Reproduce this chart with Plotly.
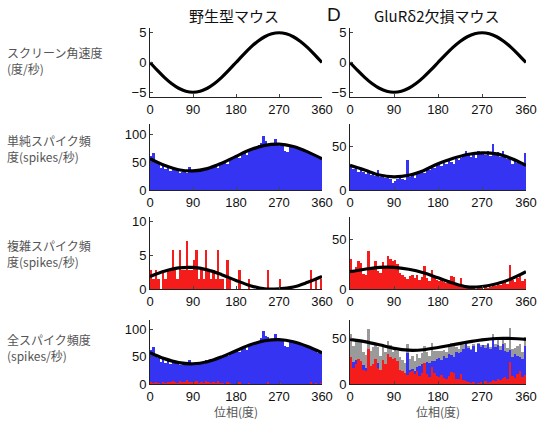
import numpy as np
import plotly.graph_objects as go

W, H = 544, 423

# ---------------- data ----------------
phase_bins = np.arange(2.5, 360, 5)          # 72 bins of 5 degrees
curve_phase = [0, 30, 60, 90, 120, 150, 180, 210, 240, 270, 300, 330, 360]
vel_phase = list(range(0, 361, 15))
screen_velocity = [0, -1.29, -2.5, -3.54, -4.33, -4.83, -5, -4.83, -4.33, -3.54, -2.5, -1.29,
                   0, 1.29, 2.5, 3.54, 4.33, 4.83, 5, 4.83, 4.33, 3.54, 2.5, 1.29, 0]

wt_simple = [60, 66, 50, 47, 40, 44, 38, 42, 34, 38, 36, 35, 30, 33, 32, 31, 42, 33,
             32, 34, 35, 36, 35, 38, 39, 40, 42, 43, 40, 47, 49, 51, 47, 54, 57, 59,
             61, 57, 64, 66, 62, 71, 72, 73, 76, 80, 84, 97, 88, 83, 81, 82, 92, 82,
             79, 80, 70, 68, 78, 77, 76, 73, 74, 70, 71, 68, 66, 64, 63, 60, 58, 57]
wt_complex = [2.86, 1.43, 2.86, 1.43, 0, 2.86, 1.43, 2.86, 2.86, 5.71, 2.86, 1.43,
              5.71, 2.86, 2.86, 7.14, 2.86, 2.86, 4.29, 5.71, 1.43, 2.86, 1.43, 5.71,
              2.86, 1.43, 2.86, 1.43, 5.71, 1.43, 1.43, 0, 4.29, 1.43, 0, 0,
              0, 2.86, 0, 0, 0, 1.43, 0, 0, 0, 0, 0, 0,
              0, 2.86, 0, 0, 0, 0, 1.43, 0, 0, 0, 0, 0,
              0, 0, 0, 0, 0, 0, 0, 2.86, 0, 1.43, 0, 1.43]
ko_simple = [26, 24, 27, 20, 23, 21, 18, 22, 17, 19, 16, 23, 15, 17, 14, 15, 13, 8,
             10, 12, 14, 13, 11, 34, 15, 17, 14, 19, 20, 22, 19, 24, 23, 26, 25, 28,
             29, 27, 31, 29, 33, 32, 30, 35, 34, 36, 39, 44, 40, 38, 42, 36, 44, 41,
             43, 40, 44, 39, 52, 41, 43, 38, 44, 37, 35, 38, 30, 33, 31, 30, 28, 42]
ko_complex = [30, 18, 22, 28, 26, 15, 14, 39, 20, 22, 28, 18, 16, 27, 22, 33, 30, 28,
              29, 25, 16, 14, 12, 10, 13, 14, 11, 14, 9, 12, 23, 11, 8, 19, 12, 9,
              8, 10, 7, 6, 9, 13, 12, 6, 5, 11, 4, 3, 2, 1, 2, 0, 1, 2,
              0, 3, 1, 2, 4, 3, 6, 4, 7, 8, 5, 24, 9, 7, 11, 14, 8, 10]

wt_simple_fit = [55.9, 44.2, 36.3, 34.1, 38.3, 47.9, 60.1, 71.8, 79.7, 81.9, 77.7, 68.2, 55.9]
wt_complex_fit = [1.84, 2.61, 3.10, 3.17, 2.81, 2.11, 1.26, 0.49, 0.02, 0.02, 0.29, 0.99, 1.84]
wt_total_fit = [57.7, 46.8, 39.4, 37.3, 41.1, 50.0, 61.4, 72.3, 79.7, 81.9, 78.0, 69.2, 57.7]
ko_simple_fit = [28, 22.7, 17, 15, 16.7, 22, 29.8, 35.8, 40.4, 42.2, 41, 35.8, 28]
ko_complex_fit = [17.5, 20, 22, 22, 20, 16.5, 11.3, 6, 2.2, 2.5, 5.3, 10.3, 17.5]
ko_total_fit = [49.5, 47, 43.5, 39.5, 37.5, 38, 40.5, 43.5, 46.5, 49, 50.5, 50.5, 49.5]

x_ticks = [0, 90, 180, 270, 360]
col_titles = ["野生型マウス", "GluRδ2欠損マウス"]
row_labels = ["スクリーン角速度<br>(度/秒)", "単純スパイク頻<br>度(spikes/秒)",
              "複雑スパイク頻<br>度(spikes/秒)", "全スパイク頻度<br>(spikes/秒)"]
x_label = "位相(度)"

# ---------------- styling ----------------
BLUE = "#3434f2"
RED = "#f51c1c"
GRAY = "#9a9a9a"
TICKFONT = dict(family="Liberation Sans, Arial", size=13, color="#111")
CJK = "Noto Sans CJK JP"

def fx(px):
    return px / W

def fy(py):
    return 1 - py / H

col_px = [(150, 322), (350, 526)]
row_px = [(28, 97), (124, 190), (217, 289), (320, 384)]
y_ranges = [
    [[-5.8, 5.8], [-5.8, 5.8]],
    [[0, 118], [0, 75]],
    [[0, 10.6], [0, 73]],
    [[0, 118], [0, 71]],
]
y_ticks = [
    [[-5, 0, 5], [-5, 0, 5]],
    [[0, 50, 100], [0, 50]],
    [[0, 5, 10], [0, 50]],
    [[0, 50, 100], [0, 50]],
]

fig = go.Figure()
layout = dict(width=W, height=H, margin=dict(l=0, r=0, t=0, b=0, autoexpand=False),
              paper_bgcolor="white", plot_bgcolor="white",
              barmode="overlay", bargap=0, showlegend=False)

def add_bar(idx, y, color):
    fig.add_trace(go.Bar(x=phase_bins, y=y, width=5, marker_color=color,
                         marker_line_width=0, xaxis=f"x{idx}", yaxis=f"y{idx}"))

def add_line(idx, x, y):
    fig.add_trace(go.Scatter(x=x, y=y, mode="lines", line=dict(color="black", width=3.2, shape="spline"),
                             xaxis=f"x{idx}", yaxis=f"y{idx}"))

idx = 0
for r in range(4):
    for c in range(2):
        idx += 1
        x0, x1 = col_px[c]
        ytop, ybot = row_px[r]
        sfx = "" if idx == 1 else str(idx)
        layout["xaxis" + sfx] = dict(domain=[fx(x0), fx(x1)], range=[0, 360], tickvals=x_ticks,
                                     ticks="inside", ticklen=3, showline=True, linecolor="#222",
                                     linewidth=1, showgrid=False, zeroline=False, tickfont=TICKFONT,
                                     anchor=f"y{idx}", fixedrange=True)
        layout["yaxis" + sfx] = dict(domain=[fy(ybot), fy(ytop)], range=y_ranges[r][c],
                                     tickvals=y_ticks[r][c], ticks="inside", ticklen=3,
                                     showline=True, linecolor="#222", linewidth=1, showgrid=False,
                                     zeroline=False, tickfont=TICKFONT, anchor=f"x{idx}", fixedrange=True)

# row 1: stimulus
add_line(1, vel_phase, screen_velocity)
add_line(2, vel_phase, screen_velocity)
# row 2: simple spikes
add_bar(3, wt_simple, BLUE)
add_line(3, curve_phase, wt_simple_fit)
add_bar(4, ko_simple, BLUE)
add_line(4, curve_phase, ko_simple_fit)
# row 3: complex spikes
add_bar(5, wt_complex, RED)
add_line(5, curve_phase, wt_complex_fit)
add_bar(6, ko_complex, RED)
add_line(6, curve_phase, ko_complex_fit)
# row 4: all spikes
wt_total = np.array(wt_simple) + np.array(wt_complex)
ko_total = np.array(ko_simple) + np.array(ko_complex)
add_bar(7, wt_total, BLUE)
add_bar(7, wt_complex, RED)
add_line(7, curve_phase, wt_total_fit)
add_bar(8, ko_total, GRAY)
add_bar(8, ko_simple, BLUE)
add_bar(8, ko_complex, RED)
add_line(8, curve_phase, ko_total_fit)

def note(text, x, y, size, color, family=CJK, xanchor="center", align="center"):
    return dict(text=text, x=fx(x), y=fy(y), xref="paper", yref="paper",
                xanchor=xanchor, yanchor="middle", align=align, showarrow=False,
                font=dict(family=family, size=size, color=color))

ann = [
    note(col_titles[0], 234, 15, 15, "#111"),
    note(col_titles[1], 436, 15, 15, "#111"),
    note("D", 334, 14, 19, "#111", family="Liberation Sans, Arial"),
]
label_y = [61, 148, 253, 347]
for lbl, yy in zip(row_labels, label_y):
    ann.append(note(lbl, 5, yy, 12, "#555", xanchor="left", align="left"))
for c in range(2):
    ann.append(note(x_label, (col_px[c][0] + col_px[c][1]) / 2, 411, 12, "#555"))
layout["annotations"] = ann
fig.update_layout(**layout)
fig.write_html("out.html")
